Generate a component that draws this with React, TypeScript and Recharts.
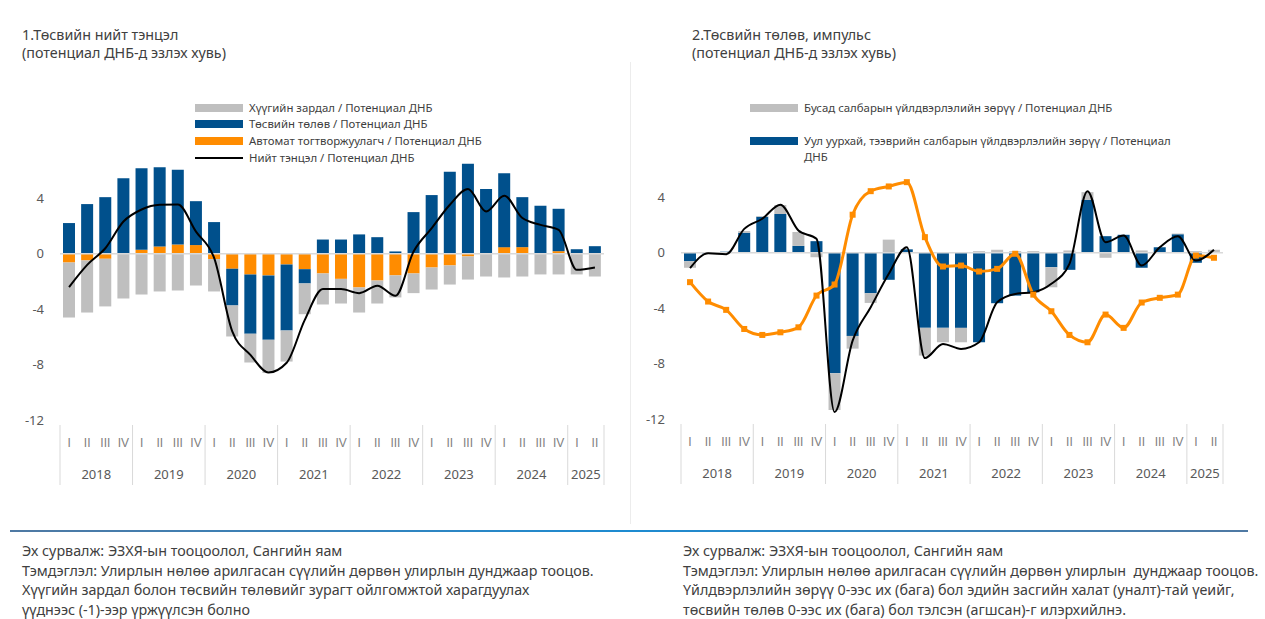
import { ComposedChart, Bar, Line, XAxis, YAxis, ReferenceLine } from 'recharts';

const YEARS = [2018, 2019, 2020, 2021, 2022, 2023, 2024, 2025];
const QUARTERS = ['I', 'II', 'III', 'IV'];
const LAST_YEAR_QUARTERS = 2;

// Зүүн график: төсвийн нийт тэнцэл
const interestCost = [
  -3.97, -3.76, -3.44, -3.22, -2.94, -2.72, -2.65, -2.29, -2.34, -2.24, -2.07, -2.4, -2.24, -2.22, -2.24,
  -1.78, -1.81, -1.66, -1.59, -1.42, -1.59, -1.38, -1.67, -1.64, -1.71, -1.64, -1.49, -1.49, -1.49, -1.64,
];
const budgetStance = [
  2.22, 3.59, 4.09, 5.46, 5.89, 5.72, 5.39, 3.17, 2.29, -2.65, -4.29, -4.65, -4.77, -1.03, 1.03,
  1.03, 1.4, 1.2, 0.17, 3.01, 4.24, 5.92, 6.5, 4.62, 5.34, 3.61, 3.42, 3.06, 0.31, 0.5,
];
const autoStabilizer = [
  -0.63, -0.48, -0.36, 0, 0.29, 0.53, 0.67, 0.63, -0.38, -1.08, -1.49, -1.56, -0.77, -1.11, -1.42,
  -1.81, -2.43, -1.93, -1.56, -1.42, -0.99, -0.84, -0.19, 0.05, 0.48, 0.48, 0.05, 0.19, 0.02, 0.05,
];
const netBalance = [
  -2.4, -0.8, 0.4, 2.33, 3.2, 3.54, 3.56, 1.6, -0.3, -5.6, -7.3, -8.57, -7.87, -4.77, -2.55,
  -2.55, -2.84, -2.31, -3.03, 0.17, 1.85, 3.54, 4.67, 3.06, 4.19, 2.58, 2.09, 1.73, -1.16, -0.99,
];

// Баруун график: төсвийн төлөв, импульс
const otherSectorGap = [
  -0.47, 0.05, 0, 0.12, 0.05, 0.65, 1.0, -0.32, -2.65, -0.92, -0.7, 0.95, 0, -2.0, -1.04,
  -1.04, 0.12, 0.22, 0.12, 0.12, -1.45, 0.17, 0.55, -0.36, 0, 0.17, 0, 0.05, 0.12, 0.22,
];
const miningGap = [
  -0.61, -0.05, 0.08, 1.45, 2.6, 2.8, 0.5, 0.84, -8.7, -6.0, -2.92, -1.95, 0.25, -5.42, -5.42,
  -5.42, -6.46, -3.64, -3.09, -2.85, -1.04, -1.23, 3.83, 1.2, 1.3, -1.08, 0.4, 1.34, -0.72, 0,
];
const outputGap = [
  -1.11, -0.03, -0.1, 1.73, 2.46, 3.47, 1.61, 1.01, -11.5, -6.34, -3.93, -1.52, 0.4, -7.6, -6.58,
  -6.94, -6.46, -3.57, -2.97, -2.85, -2.24, -0.8, 4.45, 0.77, 1.25, -0.92, 0.4, 1.2, -0.56, 0.22,
];
const fiscalImpulse = [
  -2.12, -3.52, -4.12, -5.5, -5.93, -5.74, -5.38, -3.09, -2.29, 2.75, 4.45, 4.79, 5.1, 1.13, -0.99,
  -0.92, -1.35, -1.16, -0.07, -3.02, -4.22, -5.93, -6.46, -4.46, -5.42, -3.59, -3.25, -3.02, -0.2, -0.36,
];

const Y_TICKS = [-12, -8, -4, 0, 4];

const periods = YEARS.flatMap((year, i) =>
  (i === YEARS.length - 1 ? QUARTERS.slice(0, LAST_YEAR_QUARTERS) : QUARTERS).map(q => ({ year, q }))
);

const leftData = periods.map((p, i) => ({
  period: `${p.year} ${p.q}`,
  interest: interestCost[i],
  stance: budgetStance[i],
  auto: autoStabilizer[i],
  net: netBalance[i],
}));

const rightData = periods.map((p, i) => ({
  period: `${p.year} ${p.q}`,
  other: otherSectorGap[i],
  mining: miningGap[i],
  gap: outputGap[i],
  impulse: fiscalImpulse[i],
}));

const BLUE = '#00508c';
const GREY = '#bfbfbf';
const ORANGE = '#ff8c00';
const FONT = '"Noto Sans", "Open Sans", sans-serif';
const TEXT = '#404040';

const CHART_H = 500;

const PeriodTick = (props: any, band: number) => {
  const { x, y, payload } = props;
  const idx = payload.index;
  const row = periods[idx];
  const count = periods.filter(p => p.year === row.year).length;
  const left = x - band / 2;
  return (
    <g>
      <text x={x} y={y + 27} textAnchor="middle" fontSize={12} fill="#808080" style={{ fontFamily: '"Liberation Sans", Arial, sans-serif' }}>
        {row.q}
      </text>
      {row.q === 'I' && (
        <>
          <line x1={left} x2={left} y1={y + 5} y2={y + 65} stroke="#d9d9d9" />
          <text x={left + (band * count) / 2} y={y + 59} textAnchor="middle" fontSize={13} fill="#595959" style={{ fontFamily: FONT }}>
            {row.year}
          </text>
        </>
      )}
      {idx === periods.length - 1 && (
        <line x1={x + band / 2} x2={x + band / 2} y1={y + 5} y2={y + 65} stroke="#d9d9d9" />
      )}
    </g>
  );
};

const SquareDot = (props: any) => {
  const { cx, cy, index } = props;
  if (cx == null || cy == null) return <g key={index} />;
  return <rect key={index} x={cx - 3} y={cy - 3} width={6} height={6} fill={ORANGE} />;
};

const LegendRow = ({ top, left, kind, color, children }: any) => (
  <div style={{ position: 'absolute', top, left, display: 'flex', alignItems: 'flex-start' }}>
    <div
      style={{
        width: 48,
        height: kind === 'line' ? 2 : 8,
        marginTop: kind === 'line' ? 7 : 4,
        background: color,
        marginRight: 6,
        flex: 'none',
      }}
    />
    <div style={{ fontSize: 11.4, lineHeight: '16px', color: TEXT, whiteSpace: 'pre' }}>{children}</div>
  </div>
);

const yAxisProps = {
  domain: [-12, 8] as [number, number],
  ticks: Y_TICKS,
  axisLine: false,
  tickLine: false,
  tickMargin: 10,
  width: 40,
  tick: { fontSize: 13, fill: '#595959', fontFamily: FONT },
  interval: 0 as const,
};

export default function App() {
  const leftBand = 544 / periods.length;
  const rightBand = 542 / periods.length;

  return (
    <div style={{ position: 'absolute', left: 0, top: 0, width: 1265, height: 619, background: '#fff', fontFamily: FONT, color: TEXT, overflow: 'hidden' }}>
      {/* Гарчиг */}
      <div style={{ position: 'absolute', left: 22, top: 26, fontSize: 14.3, lineHeight: '18px' }}>
        1.Төсвийн нийт тэнцэл
        <br />
        (потенциал ДНБ-д эзлэх хувь)
      </div>
      <div style={{ position: 'absolute', left: 692, top: 26, fontSize: 14.3, lineHeight: '18px' }}>
        2.Төсвийн төлөв, импульс
        <br />
        (потенциал ДНБ-д эзлэх хувь)
      </div>

      <div style={{ position: 'absolute', left: 630, top: 62, width: 1, height: 462, background: '#ececec' }} />

      {/* Зүүн график */}
      <div style={{ position: 'absolute', left: 0, top: 0 }}>
        <ComposedChart
          width={620}
          height={CHART_H}
          data={leftData}
          stackOffset="sign"
          margin={{ top: 143, right: 16, bottom: 10, left: 20 }}
        >
          <XAxis
            dataKey="period"
            axisLine={false}
            tickLine={false}
            tickSize={0}
            tickMargin={0}
            height={70}
            interval={0}
            tick={(p: any) => PeriodTick(p, leftBand)}
          />
          <YAxis {...yAxisProps} />
          <ReferenceLine y={0} stroke="#d9d9d9" strokeWidth={1.5} />
          <Bar dataKey="auto" stackId="a" fill={ORANGE} barSize={12} isAnimationActive={false} />
          <Bar dataKey="stance" stackId="a" fill={BLUE} barSize={12} isAnimationActive={false} />
          <Bar dataKey="interest" stackId="a" fill={GREY} barSize={12} isAnimationActive={false} />
          <Line type="monotone" dataKey="net" stroke="#000" strokeWidth={2} dot={false} isAnimationActive={false} />
        </ComposedChart>
      </div>

      <LegendRow top={100} left={195} color={GREY}>Хүүгийн зардал / Потенциал ДНБ</LegendRow>
      <LegendRow top={116} left={195} color={BLUE}>Төсвийн төлөв / Потенциал ДНБ</LegendRow>
      <LegendRow top={133} left={195} color={ORANGE}>Автомат тогтворжуулагч / Потенциал ДНБ</LegendRow>
      <LegendRow top={150} left={195} color="#000" kind="line">Нийт тэнцэл / Потенциал ДНБ</LegendRow>

      {/* Баруун график */}
      <div style={{ position: 'absolute', left: 630, top: 0 }}>
        <ComposedChart
          width={610}
          height={CHART_H}
          data={rightData}
          stackOffset="sign"
          margin={{ top: 142, right: 17, bottom: 11, left: 11 }}
        >
          <XAxis
            dataKey="period"
            axisLine={false}
            tickLine={false}
            tickSize={0}
            tickMargin={0}
            height={70}
            interval={0}
            tick={(p: any) => PeriodTick(p, rightBand)}
          />
          <YAxis {...yAxisProps} />
          <ReferenceLine y={0} stroke="#d9d9d9" strokeWidth={1.5} />
          <Bar dataKey="mining" stackId="b" fill={BLUE} barSize={12} isAnimationActive={false} />
          <Bar dataKey="other" stackId="b" fill={GREY} barSize={12} isAnimationActive={false} />
          <Line type="monotone" dataKey="impulse" stroke={ORANGE} strokeWidth={3} dot={SquareDot} isAnimationActive={false} />
          <Line type="monotone" dataKey="gap" stroke="#000" strokeWidth={2} dot={false} isAnimationActive={false} />
        </ComposedChart>
      </div>

      <LegendRow top={100} left={750} color={GREY}>Бусад салбарын үйлдвэрлэлийн зөрүү / Потенциал ДНБ</LegendRow>
      <LegendRow top={133} left={750} color={BLUE}>{'Уул уурхай, тээврийн салбарын үйлдвэрлэлийн зөрүү / Потенциал\nДНБ'}</LegendRow>

      <div
        style={{
          position: 'absolute',
          left: 10,
          top: 530,
          width: 1238,
          height: 2,
          background: 'linear-gradient(to right, #4f79a3, #1d8bd1 50%, #4f79a3)',
        }}
      />

      {/* Тайлбар */}
      <div style={{ position: 'absolute', left: 22, top: 541, fontSize: 14.3, lineHeight: '19.5px', whiteSpace: 'pre' }}>
        {'Эх сурвалж: ЭЗХЯ-ын тооцоолол, Сангийн яам\nТэмдэглэл: Улирлын нөлөө арилгасан сүүлийн дөрвөн улирлын дунджаар тооцов.\nХүүгийн зардал болон төсвийн төлөвийг зурагт ойлгомжтой харагдуулах\nүүднээс (-1)-ээр үржүүлсэн болно'}
      </div>
      <div style={{ position: 'absolute', left: 683, top: 541, fontSize: 14.3, lineHeight: '19.5px', whiteSpace: 'pre' }}>
        {'Эх сурвалж: ЭЗХЯ-ын тооцоолол, Сангийн яам\nТэмдэглэл: Улирлын нөлөө арилгасан сүүлийн дөрвөн улирлын  дунджаар тооцов.\nҮйлдвэрлэлийн зөрүү 0-ээс их (бага) бол эдийн засгийн халат (уналт)-тай үеийг,\nтөсвийн төлөв 0-ээс их (бага) бол тэлсэн (агшсан)-г илэрхийлнэ.'}
      </div>
    </div>
  );
}
